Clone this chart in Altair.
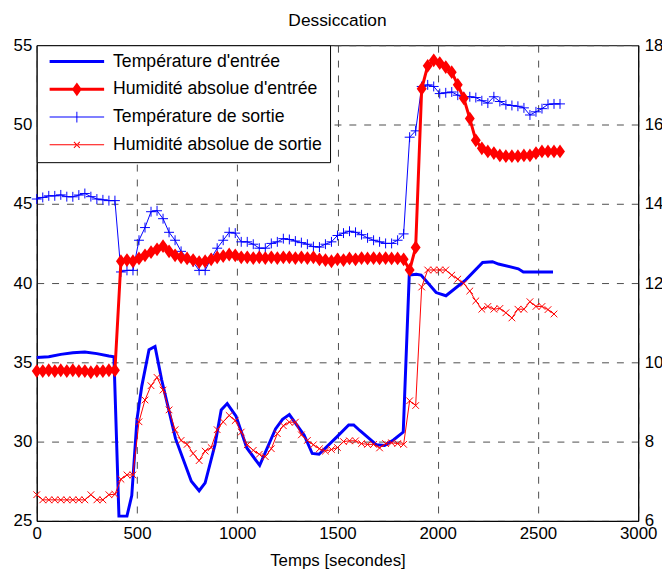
import altair as alt
import pandas as pd

# ---------------- data ----------------
series_names = [
    "Température d'entrée",
    "Humidité absolue d'entrée",
    "Température de sortie",
    "Humidité absolue de sortie",
]

# Température d'entrée (left axis, °C)
t_in = [0, 60, 120, 180, 240, 300, 360, 385, 410, 450,
        474, 500, 524, 560, 590, 623, 692, 771, 810, 840,
        889, 920, 950, 994, 1048, 1112, 1191, 1226, 1260, 1334,
        1374, 1408, 1497, 1556, 1581, 1611, 1695, 1735, 1779, 1828,
        1858, 1893, 1917, 1992, 2041, 2140, 2224, 2273, 2303, 2402,
        2427, 2575]
temp_in = [35.3, 35.35, 35.5, 35.6, 35.65, 35.55, 35.4, 35.35, 25.3, 25.3,
           26.6, 31.4, 33.5, 35.8, 36.0, 33.9, 30.2, 27.5, 26.9, 27.4,
           29.8, 32.0, 32.4, 31.6, 29.6, 28.5, 30.8, 31.4, 31.7, 30.4,
           29.25, 29.2, 30.3, 31.05, 31.05, 30.7, 29.8, 29.75, 30.1, 30.6,
           40.5, 40.56, 40.5, 39.4, 39.2, 40.2, 41.3, 41.35, 41.2, 40.9,
           40.7, 40.7]

# sampling times (s) of the marked series
t30 = list(range(0, 2611, 30))

# Humidité absolue d'entrée (right axis, g/kg)
hum_in = [9.78, 9.78, 9.8, 9.78, 9.8, 9.78, 9.8, 9.78, 9.78, 9.75, 9.78, 9.78, 9.8, 9.8,
          12.55, 12.58, 12.55, 12.62, 12.7, 12.78, 12.85, 12.93, 12.8, 12.7,
          12.65, 12.62, 12.58, 12.53, 12.55, 12.6, 12.65, 12.68, 12.72, 12.7,
          12.65, 12.65, 12.63, 12.65, 12.63, 12.65, 12.63, 12.65, 12.65, 12.63,
          12.65, 12.63, 12.65, 12.6, 12.58, 12.55, 12.6, 12.58, 12.62, 12.6,
          12.63, 12.62, 12.63, 12.62, 12.63, 12.62, 12.62, 12.6,
          12.33, 12.9, 16.9, 17.48, 17.62, 17.55, 17.45, 17.32, 17.0, 16.66,
          16.15, 15.6, 15.4, 15.32, 15.28, 15.22, 15.2, 15.2, 15.2, 15.22,
          15.22, 15.28, 15.32, 15.32, 15.32, 15.32]

# Température de sortie (left axis)
temp_out = [45.3, 45.4, 45.5, 45.5, 45.56, 45.45, 45.44, 45.55, 45.65, 45.45, 45.3, 45.25, 45.2, 45.2,
            40.7, 40.8, 40.8, 42.7, 43.5, 44.5, 44.56, 44.06, 43.2, 42.7,
            42.0, 41.6, 41.33, 40.8, 40.8, 41.56, 42.2, 42.7, 43.2, 43.15,
            42.6, 42.6, 42.45, 42.2, 42.2, 42.5, 42.6, 42.8, 42.75, 42.65,
            42.55, 42.45, 42.3, 42.27, 42.45, 42.6, 43.0, 43.15, 43.27, 43.2,
            43.05, 42.85, 42.7, 42.6, 42.5, 42.5, 42.7, 43.1,
            49.2, 49.6, 52.4, 52.5, 52.4, 51.95, 52.0, 52.05, 51.85, 51.75,
            51.75, 51.7, 51.5, 51.35, 51.75, 51.45, 51.25, 51.2, 51.15, 51.05,
            50.6, 50.8, 51.0, 51.27, 51.3, 51.3]

# Humidité absolue de sortie (right axis)
hum_out = [6.66, 6.53, 6.53, 6.53, 6.53, 6.53, 6.53, 6.53, 6.53, 6.66, 6.53, 6.53, 6.66, 6.67,
           7.05, 7.16, 7.16, 8.5, 9.05, 9.41, 9.62, 9.3, 8.8, 8.3,
           8.03, 7.93, 7.7, 7.52, 7.76, 7.85, 8.3, 8.5, 8.66, 8.53,
           8.24, 7.92, 7.78, 7.68, 7.62, 7.82, 8.2, 8.4, 8.49, 8.49,
           8.17, 8.03, 7.92, 7.82, 7.76, 7.8, 7.85, 8.0, 8.02, 8.02,
           7.95, 7.93, 7.93, 7.84, 7.95, 7.97, 7.95, 7.93,
           9.03, 8.91, 11.9, 12.33, 12.33, 12.33, 12.33, 12.2, 12.1, 11.99,
           11.8, 11.55, 11.34, 11.41, 11.34, 11.36, 11.25, 11.12, 11.34, 11.34,
           11.53, 11.41, 11.41, 11.33, 11.22]

x_ticks = [0, 500, 1000, 1500, 2000, 2500, 3000]
left_ticks = [25, 30, 35, 40, 45, 50, 55]
right_ticks = [6, 8, 10, 12, 14, 16, 18]

# ---------------- styling ----------------
BLUE = "#0000FF"
RED = "#FF0000"
FONT = "Liberation Sans"
FS = 17

PLUS = "M-1,0H1M0,-1V1"
CROSS = "M-1,-1L1,1M-1,1L1,-1"
DIAMOND = "M0,-1L0.72,0L0,1L-0.72,0Z"

# legend symbols (filled polygons: line sample + marker)
LEG_PATHS = [
    "M-1,-0.055H1V0.055H-1Z",
    "M-1,-0.055H1V0.055H-1ZM0,-0.25L0.18,0L0,0.25L-0.18,0Z",
    "M-1,-0.018H1V0.018H-1ZM-0.018,-0.2H0.018V0.2H-0.018Z",
    "M-1,-0.018H1V0.018H-1Z"
    "M-0.096,-0.122L0.122,0.096L0.096,0.122L-0.122,-0.096Z"
    "M-0.096,0.122L0.122,-0.096L0.096,-0.122L-0.122,0.096Z",
]

df_tin = pd.DataFrame({"t": t_in, "v": temp_in})
df_tout = pd.DataFrame({"t": t30[:len(temp_out)], "v": temp_out})
df_hin = pd.DataFrame({"t": t30[:len(hum_in)], "v": hum_in})
df_hout = pd.DataFrame({"t": t30[:len(hum_out)], "v": hum_out})
df_leg = pd.DataFrame({"s": series_names})

x_enc = alt.X(
    "t:Q",
    scale=alt.Scale(domain=[0, 3000], nice=False),
    axis=alt.Axis(values=x_ticks, title="Temps [secondes]", grid=True,
                  labelFlush=False, format="d", ticks=False, tickSize=0,
                  labelPadding=5, titlePadding=11),
)
yl_enc = alt.Y(
    "v:Q",
    scale=alt.Scale(domain=[25, 55], nice=False, zero=False),
    axis=alt.Axis(values=left_ticks, title=None, grid=True, orient="left",
                  ticks=False, tickSize=0, labelPadding=5),
)
yr_enc = alt.Y(
    "v:Q",
    scale=alt.Scale(domain=[6, 18], nice=False, zero=False),
    axis=alt.Axis(values=right_ticks, title=None, grid=False, orient="right",
                  ticks=False, tickSize=0, labelPadding=6),
)

base_tin = alt.Chart(df_tin)
base_tout = alt.Chart(df_tout)
base_hin = alt.Chart(df_hin)
base_hout = alt.Chart(df_hout)

temp_layer = alt.layer(
    base_tin.mark_line(color=BLUE, strokeWidth=3).encode(x=x_enc, y=yl_enc),
    base_tout.mark_line(color=BLUE, strokeWidth=1).encode(x=x_enc, y=yl_enc),
    base_tout.mark_point(shape=PLUS, size=100, color=BLUE, strokeWidth=1,
                         opacity=1, filled=False).encode(x=x_enc, y=yl_enc),
)

hum_layer = alt.layer(
    base_hin.mark_line(color=RED, strokeWidth=3).encode(x=x_enc, y=yr_enc),
    base_hin.mark_point(shape=DIAMOND, size=110, fill=RED, stroke=RED, strokeWidth=2,
                        opacity=1, filled=True).encode(x=x_enc, y=yr_enc),
    base_hout.mark_line(color=RED, strokeWidth=1).encode(x=x_enc, y=yr_enc),
    base_hout.mark_point(shape=CROSS, size=45, color=RED, strokeWidth=1,
                         opacity=1, filled=False).encode(x=x_enc, y=yr_enc),
)

legend = alt.Legend(
    title=None, orient="top-left", offset=0, padding=8,
    fillColor="white", strokeColor="black",
    labelFont=FONT, labelFontSize=17.8, labelColor="black", labelLimit=0,
    symbolSize=3025, symbolStrokeWidth=0, symbolOffset=5,
    labelOffset=9, rowPadding=9, clipHeight=17,
)

legend_layer = alt.Chart(df_leg).mark_point(
    clip=True, filled=True, opacity=1, size=3025, strokeWidth=0
).encode(
    x=alt.value(-300),
    y=alt.value(240),
    shape=alt.Shape("s:N", scale=alt.Scale(domain=series_names, range=LEG_PATHS),
                    legend=legend),
    fill=alt.Fill("s:N", scale=alt.Scale(domain=series_names,
                                         range=[BLUE, RED, BLUE, RED]),
                  legend=legend),
)

chart = (
    alt.layer(temp_layer, hum_layer, legend_layer)
    .resolve_scale(y="independent")
    .properties(
        width=607,
        height=480,
        background="white",
        autosize=alt.AutoSizeParams(type="none"),
        padding={"left": 29, "top": 35, "right": 24, "bottom": 47},
        title=alt.TitleParams("Dessiccation", font=FONT, fontSize=17.5,
                              fontWeight="normal", color="black", frame="group",
                              anchor="middle", baseline="bottom", offset=-11),
    )
    .configure_view(stroke="black", strokeWidth=1)
    .configure_axis(
        labelFont=FONT, labelFontSize=FS, labelColor="black",
        titleFont=FONT, titleFontSize=FS, titleColor="black",
        titleFontWeight="normal",
        domainColor="black", domainWidth=1,
        gridColor="#4d4d4d", gridDash=[7, 8], gridWidth=1, gridOpacity=1,
    )
)

chart.save("out.html", embed_options={"renderer": "svg", "actions": False})
